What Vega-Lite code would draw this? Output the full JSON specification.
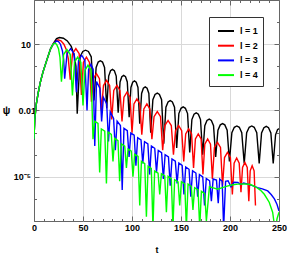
{
"$schema":"https://vega.github.io/schema/vega-lite/v6.json",
"width":245,"height":221,
"autosize":{"type":"none"},
"padding":{"left":34,"top":0,"right":10,"bottom":34},
"background":"white",
"config":{"view":{"stroke":"#666","strokeWidth":1},"font":"Liberation Sans"},
"data":{"values":[
{"l":"l = 1","t":0,"v":5.01e-4},{"l":"l = 1","t":0.7,"v":3.55e-3},{"l":"l = 1","t":2.2,"v":1.78e-2},{"l":"l = 1","t":4.1,"v":5.62e-2},{"l":"l = 1","t":6.3,"v":0.178},{"l":"l = 1","t":9.2,"v":0.562},{"l":"l = 1","t":14.3,"v":2.82},
{"l":"l = 1","t":17,"v":6.31},{"l":"l = 1","t":20,"v":11.2},{"l":"l = 1","t":23,"v":17.8},{"l":"l = 1","t":26,"v":20.0},{"l":"l = 1","t":30,"v":18.6},{"l":"l = 1","t":34,"v":14.1},{"l":"l = 1","t":38,"v":7.94},{"l":"l = 1","t":41,"v":3.16},{"l":"l = 1","t":42.8,"v":1.0},{"l":"l = 1","t":44.1,"v":7.08e-3},
{"l":"l = 1","t":47.0,"v":2.69},{"l":"l = 1","t":49.8,"v":4.68},{"l":"l = 1","t":52.6,"v":5.37},{"l":"l = 1","t":55.5,"v":4.68},{"l":"l = 1","t":58.4,"v":2.69},{"l":"l = 1","t":61.2,"v":2.82e-2},
{"l":"l = 1","t":63.4,"v":0.891},{"l":"l = 1","t":65.5,"v":1.55},{"l":"l = 1","t":67.7,"v":1.78},{"l":"l = 1","t":69.9,"v":1.55},{"l":"l = 1","t":72.0,"v":0.891},{"l":"l = 1","t":74.2,"v":1.26e-2},
{"l":"l = 1","t":76.2,"v":0.363},{"l":"l = 1","t":78.1,"v":0.631},{"l":"l = 1","t":80.0,"v":0.724},{"l":"l = 1","t":82.0,"v":0.631},{"l":"l = 1","t":83.9,"v":0.363},{"l":"l = 1","t":85.9,"v":7.94e-3},
{"l":"l = 1","t":87.8,"v":0.195},{"l":"l = 1","t":89.6,"v":0.339},{"l":"l = 1","t":91.5,"v":0.389},{"l":"l = 1","t":93.4,"v":0.339},{"l":"l = 1","t":95.2,"v":0.195},{"l":"l = 1","t":97.1,"v":5.01e-3},
{"l":"l = 1","t":98.9,"v":0.110},{"l":"l = 1","t":100.7,"v":0.191},{"l":"l = 1","t":102.5,"v":0.219},{"l":"l = 1","t":104.3,"v":0.191},{"l":"l = 1","t":106.1,"v":0.110},{"l":"l = 1","t":107.9,"v":2.51e-3},
{"l":"l = 1","t":109.8,"v":5.89e-2},{"l":"l = 1","t":111.6,"v":0.102},{"l":"l = 1","t":113.5,"v":0.117},{"l":"l = 1","t":115.4,"v":0.102},{"l":"l = 1","t":117.2,"v":5.89e-2},{"l":"l = 1","t":119.1,"v":1.0e-3},
{"l":"l = 1","t":121.3,"v":3.09e-2},{"l":"l = 1","t":123.5,"v":5.37e-2},{"l":"l = 1","t":125.8,"v":6.17e-2},{"l":"l = 1","t":128,"v":5.37e-2},{"l":"l = 1","t":130.2,"v":3.09e-2},{"l":"l = 1","t":132.4,"v":3.16e-4},
{"l":"l = 1","t":134.6,"v":1.41e-2},{"l":"l = 1","t":136.8,"v":2.45e-2},{"l":"l = 1","t":139,"v":2.82e-2},{"l":"l = 1","t":141.2,"v":2.45e-2},{"l":"l = 1","t":143.4,"v":1.41e-2},{"l":"l = 1","t":145.6,"v":2.0e-4},
{"l":"l = 1","t":147.8,"v":7.24e-3},{"l":"l = 1","t":150,"v":1.26e-2},{"l":"l = 1","t":152.2,"v":1.45e-2},{"l":"l = 1","t":154.5,"v":1.26e-2},{"l":"l = 1","t":156.7,"v":7.24e-3},{"l":"l = 1","t":158.9,"v":1.26e-4},
{"l":"l = 1","t":161.1,"v":3.89e-3},{"l":"l = 1","t":163.3,"v":6.76e-3},{"l":"l = 1","t":165.5,"v":7.76e-3},{"l":"l = 1","t":167.7,"v":6.76e-3},{"l":"l = 1","t":169.9,"v":3.89e-3},{"l":"l = 1","t":172.1,"v":1.0e-4},
{"l":"l = 1","t":174.3,"v":2.04e-3},{"l":"l = 1","t":176.5,"v":3.55e-3},{"l":"l = 1","t":178.8,"v":4.07e-3},{"l":"l = 1","t":181,"v":3.55e-3},{"l":"l = 1","t":183.2,"v":2.04e-3},{"l":"l = 1","t":185.4,"v":7.94e-5},
{"l":"l = 1","t":187.7,"v":1.29e-3},{"l":"l = 1","t":190.1,"v":2.24e-3},{"l":"l = 1","t":192.4,"v":2.57e-3},{"l":"l = 1","t":194.7,"v":2.24e-3},{"l":"l = 1","t":197.1,"v":1.29e-3},{"l":"l = 1","t":199.4,"v":5.01e-5},
{"l":"l = 1","t":201.9,"v":1.0e-3},{"l":"l = 1","t":204.4,"v":1.74e-3},{"l":"l = 1","t":207,"v":2.0e-3},{"l":"l = 1","t":209.5,"v":1.74e-3},{"l":"l = 1","t":212,"v":1.0e-3},{"l":"l = 1","t":214.5,"v":3.98e-5},
{"l":"l = 1","t":217,"v":1.0e-3},{"l":"l = 1","t":219.6,"v":1.74e-3},{"l":"l = 1","t":222.2,"v":2.0e-3},{"l":"l = 1","t":224.7,"v":1.74e-3},{"l":"l = 1","t":227.3,"v":1.0e-3},{"l":"l = 1","t":229.8,"v":3.98e-5},
{"l":"l = 1","t":232.2,"v":9.55e-4},{"l":"l = 1","t":234.6,"v":1.66e-3},{"l":"l = 1","t":237,"v":1.91e-3},{"l":"l = 1","t":239.3,"v":1.66e-3},{"l":"l = 1","t":241.7,"v":9.55e-4},{"l":"l = 1","t":244.1,"v":3.98e-5},
{"l":"l = 1","t":246.5,"v":7.94e-4},{"l":"l = 1","t":248.5,"v":1.35e-3},{"l":"l = 1","t":250,"v":1.51e-3},

{"l":"l = 2","t":0,"v":5.01e-4},{"l":"l = 2","t":0.7,"v":3.55e-3},{"l":"l = 2","t":2.2,"v":1.78e-2},{"l":"l = 2","t":4.1,"v":5.62e-2},{"l":"l = 2","t":6.3,"v":0.178},{"l":"l = 2","t":9.2,"v":0.562},{"l":"l = 2","t":14.3,"v":2.82},
{"l":"l = 2","t":17,"v":6.31},{"l":"l = 2","t":20,"v":11.2},{"l":"l = 2","t":24.5,"v":15.8},{"l":"l = 2","t":27.5,"v":14.1},{"l":"l = 2","t":30.5,"v":10.0},{"l":"l = 2","t":33,"v":5.62},{"l":"l = 2","t":35,"v":2.24},{"l":"l = 2","t":37,"v":0.251},
{"l":"l = 2","t":39.3,"v":3.72},{"l":"l = 2","t":42.7,"v":6.31},{"l":"l = 2","t":46.1,"v":3.72},{"l":"l = 2","t":48.4,"v":5.01e-2},
{"l":"l = 2","t":50.4,"v":1.51},{"l":"l = 2","t":53.5,"v":2.57},{"l":"l = 2","t":56.6,"v":1.51},{"l":"l = 2","t":58.6,"v":2.51e-2},
{"l":"l = 2","t":60.6,"v":0.275},{"l":"l = 2","t":63.7,"v":0.468},{"l":"l = 2","t":66.8,"v":0.275},{"l":"l = 2","t":68.8,"v":1.0e-2},
{"l":"l = 2","t":70.9,"v":0.135},{"l":"l = 2","t":74,"v":0.229},{"l":"l = 2","t":77.2,"v":0.135},{"l":"l = 2","t":79.3,"v":3.98e-3},
{"l":"l = 2","t":81.4,"v":8.13e-2},{"l":"l = 2","t":84.6,"v":0.138},{"l":"l = 2","t":87.7,"v":8.13e-2},{"l":"l = 2","t":89.8,"v":3.16e-3},
{"l":"l = 2","t":91.8,"v":3.98e-2},{"l":"l = 2","t":94.9,"v":6.76e-2},{"l":"l = 2","t":98,"v":3.98e-2},{"l":"l = 2","t":100,"v":1.0e-3},
{"l":"l = 2","t":102,"v":2.0e-2},{"l":"l = 2","t":105,"v":3.39e-2},{"l":"l = 2","t":108,"v":2.0e-2},{"l":"l = 2","t":110,"v":7.94e-4},
{"l":"l = 2","t":112.1,"v":1.17e-2},{"l":"l = 2","t":115.2,"v":2.0e-2},{"l":"l = 2","t":118.2,"v":1.17e-2},{"l":"l = 2","t":120.3,"v":5.01e-4},
{"l":"l = 2","t":122.5,"v":5.25e-3},{"l":"l = 2","t":125.8,"v":8.91e-3},{"l":"l = 2","t":129.1,"v":5.25e-3},{"l":"l = 2","t":131.3,"v":1.58e-4},
{"l":"l = 2","t":133.5,"v":2.09e-3},{"l":"l = 2","t":136.8,"v":3.55e-3},{"l":"l = 2","t":140.1,"v":2.09e-3},{"l":"l = 2","t":142.3,"v":1.0e-4},
{"l":"l = 2","t":144.4,"v":1.23e-3},{"l":"l = 2","t":147.6,"v":2.09e-3},{"l":"l = 2","t":150.7,"v":1.23e-3},{"l":"l = 2","t":152.8,"v":5.01e-5},
{"l":"l = 2","t":154.8,"v":8.71e-4},{"l":"l = 2","t":157.8,"v":1.48e-3},{"l":"l = 2","t":160.8,"v":8.71e-4},{"l":"l = 2","t":162.8,"v":2.51e-5},
{"l":"l = 2","t":164.7,"v":5.13e-4},{"l":"l = 2","t":167.6,"v":8.71e-4},{"l":"l = 2","t":170.5,"v":5.13e-4},{"l":"l = 2","t":172.4,"v":1.26e-5},
{"l":"l = 2","t":174.3,"v":3.02e-4},{"l":"l = 2","t":177.2,"v":5.13e-4},{"l":"l = 2","t":180.1,"v":3.02e-4},{"l":"l = 2","t":182,"v":7.94e-6},
{"l":"l = 2","t":184.1,"v":2.14e-4},{"l":"l = 2","t":187.2,"v":3.63e-4},{"l":"l = 2","t":190.3,"v":2.14e-4},{"l":"l = 2","t":192.4,"v":3.98e-6},
{"l":"l = 2","t":194.4,"v":7.41e-5},{"l":"l = 2","t":197.4,"v":1.26e-4},{"l":"l = 2","t":200.4,"v":7.41e-5},{"l":"l = 2","t":202.4,"v":1.58e-6},
{"l":"l = 2","t":204.2,"v":4.17e-5},{"l":"l = 2","t":206.8,"v":7.08e-5},{"l":"l = 2","t":209.4,"v":4.17e-5},{"l":"l = 2","t":211.2,"v":2.0e-6},
{"l":"l = 2","t":212.8,"v":2.63e-5},{"l":"l = 2","t":215.2,"v":4.47e-5},{"l":"l = 2","t":217.6,"v":2.63e-5},{"l":"l = 2","t":219.2,"v":7.94e-7},
{"l":"l = 2","t":220.6,"v":1.86e-5},{"l":"l = 2","t":222.6,"v":3.16e-5},{"l":"l = 2","t":224.6,"v":1.86e-5},{"l":"l = 2","t":226,"v":5.01e-7},

{"l":"l = 3","t":0,"v":5.01e-4},{"l":"l = 3","t":0.7,"v":3.55e-3},{"l":"l = 3","t":2.2,"v":1.78e-2},{"l":"l = 3","t":4.1,"v":5.62e-2},{"l":"l = 3","t":6.3,"v":0.178},{"l":"l = 3","t":9.2,"v":0.562},{"l":"l = 3","t":14.3,"v":2.82},
{"l":"l = 3","t":17,"v":6.31},{"l":"l = 3","t":19.5,"v":10.0},{"l":"l = 3","t":22.9,"v":14.1},{"l":"l = 3","t":25,"v":13.2},{"l":"l = 3","t":27,"v":10.0},{"l":"l = 3","t":29,"v":5.01},{"l":"l = 3","t":30.3,"v":2.0},{"l":"l = 3","t":31.3,"v":0.275},
{"l":"l = 3","t":33.7,"v":3.72},{"l":"l = 3","t":37.3,"v":6.31},{"l":"l = 3","t":40.9,"v":3.72},{"l":"l = 3","t":43.3,"v":6.76e-2},
{"l":"l = 3","t":45.5,"v":1.86},{"l":"l = 3","t":48.7,"v":3.16},{"l":"l = 3","t":51.9,"v":1.86},{"l":"l = 3","t":54.1,"v":1.0e-2},
{"l":"l = 3","t":55.7,"v":0.724},{"l":"l = 3","t":58.1,"v":1.23},{"l":"l = 3","t":60.4,"v":0.724},{"l":"l = 3","t":62,"v":2.51e-4},
{"l":"l = 3","t":63.8,"v":0.204},{"l":"l = 3","t":67.2,"v":0.102},{"l":"l = 3","t":69,"v":3.16e-3},
{"l":"l = 3","t":70.8,"v":3.98e-2},{"l":"l = 3","t":74.2,"v":2.0e-2},{"l":"l = 3","t":76,"v":3.98e-4},
{"l":"l = 3","t":77.8,"v":8.71e-3},{"l":"l = 3","t":81.2,"v":4.37e-3},{"l":"l = 3","t":83,"v":1.58e-4},
{"l":"l = 3","t":84.8,"v":3.31e-3},{"l":"l = 3","t":88.2,"v":2.09e-3},{"l":"l = 3","t":90,"v":2.51e-6},
{"l":"l = 3","t":91.8,"v":1.55e-3},{"l":"l = 3","t":95.2,"v":1.23e-3},{"l":"l = 3","t":97,"v":7.94e-5},
{"l":"l = 3","t":98.8,"v":9.55e-4},{"l":"l = 3","t":102.2,"v":7.59e-4},{"l":"l = 3","t":104,"v":3.16e-5},
{"l":"l = 3","t":105.8,"v":5.89e-4},{"l":"l = 3","t":109.2,"v":4.68e-4},{"l":"l = 3","t":111,"v":3.98e-5},
{"l":"l = 3","t":112.8,"v":3.89e-4},{"l":"l = 3","t":116.2,"v":3.09e-4},{"l":"l = 3","t":118,"v":1.26e-5},
{"l":"l = 3","t":119.8,"v":2.45e-4},{"l":"l = 3","t":123.2,"v":1.95e-4},{"l":"l = 3","t":125,"v":1.58e-5},
{"l":"l = 3","t":126.8,"v":1.55e-4},{"l":"l = 3","t":130.2,"v":1.23e-4},{"l":"l = 3","t":132,"v":7.94e-6},
{"l":"l = 3","t":133.8,"v":1.0e-4},{"l":"l = 3","t":137.2,"v":7.94e-5},{"l":"l = 3","t":139,"v":3.98e-6},
{"l":"l = 3","t":140.8,"v":6.46e-5},{"l":"l = 3","t":144.2,"v":5.13e-5},{"l":"l = 3","t":146,"v":5.01e-6},
{"l":"l = 3","t":147.8,"v":4.17e-5},{"l":"l = 3","t":151.2,"v":3.31e-5},{"l":"l = 3","t":153,"v":1.58e-6},
{"l":"l = 3","t":154.8,"v":2.75e-5},{"l":"l = 3","t":158.2,"v":2.19e-5},{"l":"l = 3","t":160,"v":1.26e-6},
{"l":"l = 3","t":161.8,"v":1.86e-5},{"l":"l = 3","t":165.2,"v":1.48e-5},{"l":"l = 3","t":167,"v":1.26e-6},
{"l":"l = 3","t":168.8,"v":1.26e-5},{"l":"l = 3","t":172.2,"v":1.0e-5},{"l":"l = 3","t":174,"v":5.01e-7},
{"l":"l = 3","t":175.8,"v":8.32e-6},{"l":"l = 3","t":179.2,"v":6.61e-6},{"l":"l = 3","t":181,"v":7.94e-7},
{"l":"l = 3","t":182.8,"v":7.94e-6},{"l":"l = 3","t":186.2,"v":7.08e-6},{"l":"l = 3","t":188,"v":6.31e-7},
{"l":"l = 3","t":189.5,"v":7.94e-6},{"l":"l = 3","t":192,"v":6.31e-6},{"l":"l = 3","t":193.5,"v":5.01e-8},
{"l":"l = 3","t":195.5,"v":6.31e-6},{"l":"l = 3","t":198,"v":6.61e-6},{"l":"l = 3","t":201,"v":3.55e-6},{"l":"l = 3","t":204,"v":5.62e-6},{"l":"l = 3","t":208,"v":5.5e-6},{"l":"l = 3","t":211,"v":4.47e-6},{"l":"l = 3","t":214,"v":5.25e-6},{"l":"l = 3","t":218,"v":4.68e-6},{"l":"l = 3","t":223,"v":3.98e-6},{"l":"l = 3","t":228,"v":3.24e-6},{"l":"l = 3","t":233,"v":2.82e-6},{"l":"l = 3","t":238.5,"v":2.29e-6},{"l":"l = 3","t":242,"v":1.58e-6},{"l":"l = 3","t":245.3,"v":1.0e-6},{"l":"l = 3","t":248,"v":5.62e-7},{"l":"l = 3","t":250,"v":2.82e-7},

{"l":"l = 4","t":0,"v":5.01e-4},{"l":"l = 4","t":0.7,"v":3.55e-3},{"l":"l = 4","t":2.2,"v":1.78e-2},{"l":"l = 4","t":4.1,"v":5.62e-2},{"l":"l = 4","t":6.3,"v":0.178},{"l":"l = 4","t":9.2,"v":0.562},{"l":"l = 4","t":14.3,"v":2.82},
{"l":"l = 4","t":17,"v":6.31},{"l":"l = 4","t":19.5,"v":10.0},{"l":"l = 4","t":21.1,"v":11.2},{"l":"l = 4","t":23,"v":10.0},{"l":"l = 4","t":25,"v":6.31},{"l":"l = 4","t":26.5,"v":2.51},{"l":"l = 4","t":28,"v":0.2},
{"l":"l = 4","t":30.2,"v":3.39},{"l":"l = 4","t":33.6,"v":5.75},{"l":"l = 4","t":37,"v":3.39},{"l":"l = 4","t":39.2,"v":4.79e-2},
{"l":"l = 4","t":41.4,"v":1.55},{"l":"l = 4","t":44.6,"v":2.63},{"l":"l = 4","t":47.8,"v":1.55},{"l":"l = 4","t":50,"v":1.70e-2},
{"l":"l = 4","t":52,"v":0.661},{"l":"l = 4","t":55.1,"v":1.12},{"l":"l = 4","t":58.2,"v":0.661},{"l":"l = 4","t":60.2,"v":5.01e-4},
{"l":"l = 4","t":61.9,"v":3.31e-3},{"l":"l = 4","t":65.3,"v":2.63e-3},{"l":"l = 4","t":67,"v":1.58e-5},
{"l":"l = 4","t":68.7,"v":1.45e-3},{"l":"l = 4","t":72.2,"v":1.15e-3},{"l":"l = 4","t":73.9,"v":5.01e-6},
{"l":"l = 4","t":75.6,"v":1.05e-3},{"l":"l = 4","t":78.9,"v":8.32e-4},{"l":"l = 4","t":80.6,"v":5.01e-5},
{"l":"l = 4","t":82.3,"v":5.5e-4},{"l":"l = 4","t":85.7,"v":4.37e-4},{"l":"l = 4","t":87.4,"v":6.31e-6},
{"l":"l = 4","t":89.1,"v":3.09e-4},{"l":"l = 4","t":92.6,"v":2.45e-4},{"l":"l = 4","t":94.3,"v":2.51e-5},
{"l":"l = 4","t":96,"v":1.82e-4},{"l":"l = 4","t":99.3,"v":1.45e-4},{"l":"l = 4","t":101,"v":1.0e-5},
{"l":"l = 4","t":102.7,"v":1.05e-4},{"l":"l = 4","t":106.2,"v":8.32e-5},{"l":"l = 4","t":107.9,"v":5.01e-7},
{"l":"l = 4","t":109.6,"v":5.01e-5},{"l":"l = 4","t":113,"v":3.98e-5},{"l":"l = 4","t":114.7,"v":1.58e-7},
{"l":"l = 4","t":116.4,"v":3.02e-5},{"l":"l = 4","t":119.7,"v":2.4e-5},{"l":"l = 4","t":121.4,"v":5.01e-8},
{"l":"l = 4","t":123.1,"v":1.82e-5},{"l":"l = 4","t":126.6,"v":1.45e-5},{"l":"l = 4","t":128.3,"v":1.58e-6},
{"l":"l = 4","t":130,"v":1.38e-5},{"l":"l = 4","t":133.4,"v":1.10e-5},{"l":"l = 4","t":135.1,"v":2.51e-7},
{"l":"l = 4","t":136.8,"v":1.05e-5},{"l":"l = 4","t":140.1,"v":8.32e-6},{"l":"l = 4","t":141.8,"v":5.01e-8},
{"l":"l = 4","t":143.5,"v":7.41e-6},{"l":"l = 4","t":147,"v":5.89e-6},{"l":"l = 4","t":148.7,"v":5.01e-7},
{"l":"l = 4","t":150.4,"v":6.03e-6},{"l":"l = 4","t":153.8,"v":4.79e-6},{"l":"l = 4","t":155.5,"v":5.01e-8},
{"l":"l = 4","t":157.2,"v":4.68e-6},{"l":"l = 4","t":160.5,"v":3.72e-6},{"l":"l = 4","t":162.2,"v":3.16e-7},
{"l":"l = 4","t":163.9,"v":3.24e-6},{"l":"l = 4","t":167.4,"v":2.57e-6},{"l":"l = 4","t":169.1,"v":5.01e-8},
{"l":"l = 4","t":170.8,"v":2.19e-6},{"l":"l = 4","t":174.2,"v":1.74e-6},{"l":"l = 4","t":175.9,"v":1.0e-7},
{"l":"l = 4","t":179,"v":3.55e-6},{"l":"l = 4","t":183,"v":3.16e-6},{"l":"l = 4","t":187.4,"v":2.75e-6},{"l":"l = 4","t":193,"v":3.31e-6},{"l":"l = 4","t":198,"v":3.89e-6},{"l":"l = 4","t":203,"v":4.37e-6},{"l":"l = 4","t":208,"v":4.68e-6},{"l":"l = 4","t":215,"v":4.79e-6},{"l":"l = 4","t":221,"v":4.47e-6},{"l":"l = 4","t":226,"v":3.55e-6},{"l":"l = 4","t":231,"v":2.51e-6},{"l":"l = 4","t":235,"v":1.62e-6},{"l":"l = 4","t":240,"v":7.08e-7},{"l":"l = 4","t":243.5,"v":2.51e-7},{"l":"l = 4","t":246,"v":3.98e-8},{"l":"l = 4","t":248,"v":1.26e-7},{"l":"l = 4","t":250,"v":2.51e-7}
]},
"layer":[
{"mark":{"type":"line","strokeWidth":1.4,"clip":true},
 "encoding":{
  "x":{"field":"t","type":"quantitative","scale":{"domain":[0,250],"nice":false,"zero":false},
   "axis":{"orient":"bottom","values":[0,10,20,30,40,50,60,70,80,90,100,110,120,130,140,150,160,170,180,190,200,210,220,230,240,250],
    "labelExpr":"datum.value % 50 === 0 ? datum.label : ''",
    "tickSize":{"condition":{"test":"datum.value % 50 === 0","value":-5},"value":-2.5},
    "tickColor":"#666","domain":false,"grid":true,"gridColor":"#d9d9d9",
    "gridOpacity":{"condition":{"test":"datum.value % 50 === 0 && datum.value > 0 && datum.value < 250","value":1},"value":0},
    "labelFont":"Liberation Sans","labelFontSize":9,"labelFontWeight":"bold","labelColor":"black","labelPadding":7,"labelFlush":false,"labelOverlap":false,
    "title":"t","titleFont":"Liberation Sans","titleFontSize":9,"titleFontWeight":"bold","titleColor":"black","titleBaseline":"alphabetic","titleY":31.5}},
  "y":{"field":"v","type":"quantitative","scale":{"type":"log","domain":[1e-7,1000],"nice":false},
   "axis":{"orient":"left","values":[1e-7,1e-6,1e-5,1e-4,0.001,0.01,0.1,1,10,100,1000],
    "labelExpr":"(round(log(datum.value)/LN10)+8)%3===0 ? (round(log(datum.value)/LN10)===1 ? '10' : round(log(datum.value)/LN10)===-2 ? '0.01' : '10⁻⁵') : ''",
    "tickSize":{"condition":{"test":"(round(log(datum.value)/LN10)+8)%3===0","value":-5},"value":-2.5},
    "tickColor":"#666","domain":false,"grid":true,"gridColor":"#d9d9d9",
    "gridOpacity":{"condition":{"test":"(round(log(datum.value)/LN10)+8)%3===0","value":1},"value":0},
    "labelFont":"Liberation Sans","labelFontSize":9,"labelFontWeight":"bold","labelColor":"black",
    "labelPadding":{"condition":{"test":"round(log(datum.value)/LN10)===-2","value":3.5},"value":8.5},
    "labelOverlap":false,"labelFlush":false,
    "title":"ψ","titleFont":"Liberation Sans","titleFontSize":10,"titleFontWeight":"bold","titleColor":"black","titleAngle":0,"titleAlign":"center","titleBaseline":"middle","titleX":-28,"titleY":110}},
  "color":{"field":"l","type":"nominal","scale":{"domain":["l = 1","l = 2","l = 3","l = 4"],"range":["#000000","#ff0000","#0000ff","#00ff00"]},
   "legend":{"orient":"none","legendX":175,"legendY":17,"title":null,"symbolType":"stroke","symbolSize":256,"symbolStrokeWidth":2,
    "labelFont":"Liberation Sans","labelFontSize":9,"labelFontWeight":"bold","labelColor":"black","labelExpr":"datum.label + '\u00a0\u00a0\u00a0'",
    "padding":5,"symbolOffset":3,"labelOffset":5,"rowPadding":0.7,"strokeColor":"#333","fillColor":"white"}}
 }},
{"mark":{"type":"line","strokeOpacity":0},
 "encoding":{
  "x":{"field":"t","type":"quantitative","scale":{"domain":[0,250],"nice":false,"zero":false},
   "axis":{"orient":"top","values":[0,10,20,30,40,50,60,70,80,90,100,110,120,130,140,150,160,170,180,190,200,210,220,230,240,250],
    "labels":false,"domain":false,"grid":false,"title":null,"tickColor":"#666",
    "tickSize":{"condition":{"test":"datum.value % 50 === 0","value":-5},"value":-2.5}}},
  "y":{"field":"v","type":"quantitative","scale":{"type":"log","domain":[1e-7,1000],"nice":false},
   "axis":{"orient":"right","values":[1e-7,1e-6,1e-5,1e-4,0.001,0.01,0.1,1,10,100,1000],
    "labels":false,"domain":false,"grid":false,"title":null,"tickColor":"#666",
    "tickSize":{"condition":{"test":"(round(log(datum.value)/LN10)+8)%3===0","value":-5},"value":-2.5}}},
  "detail":{"field":"l"}
 }}
],
"resolve":{"axis":{"x":"independent","y":"independent"}}
}
